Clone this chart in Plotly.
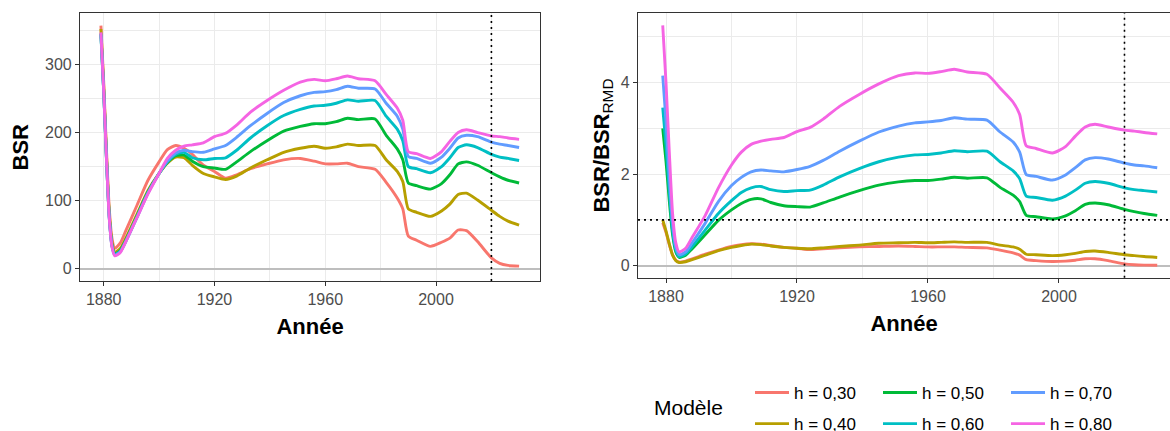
import plotly.graph_objects as go

# ---------------- data ----------------
YEARS = [1879, 1880, 1881, 1882, 1883, 1884, 1886, 1888, 1892, 1896, 1900, 1903, 1906, 1909,
         1912, 1916, 1920, 1924, 1928, 1933, 1939, 1945, 1951, 1956, 1960, 1964, 1968, 1972,
         1978, 1982, 1986, 1988, 1990, 1993, 1998, 2002, 2005, 2008, 2011, 2015, 2020, 2023,
         2026, 2030]

LABELS = ["h = 0,30", "h = 0,40", "h = 0,50", "h = 0,60", "h = 0,70", "h = 0,80"]
COLORS = ["#F8766D", "#B79F00", "#00BA38", "#00BFC4", "#619CFF", "#F564E3"]

# BSR (left panel)
BSR_030 = [357, 275, 175, 90, 45, 30, 38, 56, 93, 130, 157, 175, 181, 177, 168, 152, 143, 133, 138, 147,
           154, 160, 162, 158, 154, 154, 155, 150, 146, 127, 104, 88, 48, 42, 33, 39, 45, 57, 56, 40,
           16, 8, 5, 4]
BSR_040 = [352, 268, 168, 82, 38, 24, 30, 45, 80, 115, 140, 155, 164, 163, 152, 140, 135, 131, 136, 148,
           160, 171, 177, 180, 177, 179, 183, 181, 181, 160, 143, 128, 88, 83, 77, 85, 95, 109, 111, 101,
           86, 77, 70, 64]
BSR_050 = [345, 262, 163, 78, 35, 22, 27, 42, 77, 113, 140, 156, 166, 167, 158, 150, 148, 146, 157, 172,
           188, 202, 209, 213, 213, 216, 221, 219, 220, 196, 176, 160, 126, 122, 117, 125, 138, 154, 157, 152,
           141, 135, 130, 126]
BSR_060 = [343, 260, 161, 76, 34, 21, 26, 41, 76, 112, 140, 157, 168, 171, 163, 160, 162, 163, 174, 192,
           210, 225, 234, 239, 240, 243, 248, 246, 247, 224, 205, 188, 150, 147, 141, 150, 163, 178, 182, 178,
           168, 164, 162, 159]
BSR_070 = [345, 261, 162, 76, 33, 20, 25, 40, 75, 111, 140, 158, 170, 174, 172, 171, 176, 181, 193, 210,
           228, 244, 254, 259, 260, 263, 268, 265, 264, 243, 224, 205, 165, 162, 155, 164, 177, 192, 196, 194,
           186, 183, 181, 178]
BSR_080 = [347, 262, 162, 75, 32, 19, 24, 40, 75, 110, 140, 162, 174, 180, 182, 185, 194, 199, 211, 230,
           247, 262, 274, 278, 276, 279, 283, 279, 276, 256, 236, 218, 172, 169, 162, 172, 187, 200, 204, 200,
           195, 194, 192, 190]

# BSR / BSR_RMD (right panel)
REL_030 = [0.94, 0.73, 0.46, 0.24, 0.12, 0.08, 0.10, 0.15, 0.25, 0.34, 0.42, 0.46, 0.48, 0.47, 0.44, 0.40,
           0.38, 0.35, 0.37, 0.39, 0.41, 0.42, 0.43, 0.42, 0.41, 0.41, 0.41, 0.40, 0.39, 0.34, 0.28, 0.23,
           0.13, 0.11, 0.09, 0.10, 0.12, 0.15, 0.15, 0.11, 0.04, 0.02, 0.013, 0.01]
REL_040 = [1.00, 0.76, 0.48, 0.23, 0.11, 0.07, 0.085, 0.13, 0.23, 0.33, 0.40, 0.44, 0.47, 0.46, 0.43, 0.40,
           0.38, 0.37, 0.39, 0.42, 0.45, 0.49, 0.50, 0.51, 0.50, 0.51, 0.52, 0.51, 0.51, 0.45, 0.41, 0.36,
           0.25, 0.24, 0.22, 0.24, 0.27, 0.31, 0.32, 0.29, 0.24, 0.22, 0.20, 0.18]
REL_050 = [3.00, 2.28, 1.42, 0.68, 0.30, 0.18, 0.23, 0.37, 0.68, 0.99, 1.22, 1.36, 1.45, 1.46, 1.38, 1.31,
           1.29, 1.28, 1.37, 1.50, 1.64, 1.76, 1.83, 1.86, 1.86, 1.89, 1.93, 1.91, 1.92, 1.71, 1.54, 1.40,
           1.10, 1.07, 1.02, 1.09, 1.20, 1.34, 1.37, 1.33, 1.23, 1.18, 1.14, 1.10]
REL_060 = [3.45, 2.62, 1.63, 0.77, 0.34, 0.20, 0.26, 0.42, 0.78, 1.14, 1.42, 1.60, 1.70, 1.73, 1.66, 1.62,
           1.64, 1.65, 1.76, 1.94, 2.12, 2.27, 2.37, 2.42, 2.43, 2.46, 2.51, 2.49, 2.50, 2.27, 2.07, 1.90,
           1.52, 1.49, 1.43, 1.52, 1.65, 1.80, 1.84, 1.80, 1.70, 1.66, 1.64, 1.61]
REL_070 = [4.15, 3.15, 1.95, 0.92, 0.40, 0.24, 0.30, 0.50, 0.93, 1.40, 1.75, 1.93, 2.05, 2.09, 2.07, 2.05,
           2.10, 2.17, 2.30, 2.50, 2.72, 2.92, 3.05, 3.12, 3.14, 3.17, 3.23, 3.20, 3.18, 2.92, 2.70, 2.48,
           1.99, 1.95, 1.87, 1.98, 2.14, 2.31, 2.36, 2.33, 2.24, 2.20, 2.18, 2.14]
REL_080 = [5.25, 4.00, 2.50, 1.15, 0.50, 0.30, 0.38, 0.62, 1.10, 1.70, 2.20, 2.48, 2.65, 2.72, 2.76, 2.80,
           2.93, 3.02, 3.20, 3.48, 3.74, 3.97, 4.15, 4.21, 4.20, 4.24, 4.29, 4.23, 4.18, 3.88, 3.57, 3.30,
           2.62, 2.56, 2.46, 2.60, 2.83, 3.03, 3.09, 3.03, 2.96, 2.94, 2.91, 2.88]

BSR_SERIES = [BSR_030, BSR_040, BSR_050, BSR_060, BSR_070, BSR_080]
REL_SERIES = [REL_030, REL_040, REL_050, REL_060, REL_070, REL_080]

X_TICKS = [1880, 1920, 1960, 2000]
Y1_TICKS = [0, 100, 200, 300]
Y2_TICKS = [0, 2, 4]
REF_YEAR = 2020
REF_RATIO = 1

# ---------------- figure ----------------
W, H = 1170, 431
FONT = "Liberation Sans, Arial, sans-serif"
LEG_NAMES = ["legend", "legend", "legend2", "legend2", "legend3", "legend3"]

fig = go.Figure()
for i in range(6):
    fig.add_trace(go.Scatter(x=YEARS, y=BSR_SERIES[i], mode="lines", name=LABELS[i],
                             line=dict(color=COLORS[i], width=2.9, shape="spline", smoothing=0.6),
                             xaxis="x", yaxis="y", showlegend=False, hoverinfo="skip"))
for i in range(6):
    fig.add_trace(go.Scatter(x=YEARS, y=REL_SERIES[i], mode="lines", name=LABELS[i],
                             line=dict(color=COLORS[i], width=2.9, shape="spline", smoothing=0.6),
                             xaxis="x2", yaxis="y2",
                             showlegend=True, legend=LEG_NAMES[i], legendgroup=LABELS[i],
                             hoverinfo="skip"))

grid = "#EBEBEB"
axis_common = dict(showline=True, linecolor="#333333", linewidth=1.1,
                   ticks="outside", ticklen=4, tickwidth=1.1, tickcolor="#333333",
                   tickfont=dict(family=FONT, size=16, color="#4D4D4D"),
                   showgrid=True, gridcolor=grid, gridwidth=1.1,
                   automargin=False)
x_common = dict(zeroline=False, **axis_common)
y_common = dict(zeroline=True, zerolinecolor="#BEBEBE", zerolinewidth=1.6, **axis_common)

fig.update_layout(
    width=W, height=H,
    margin=dict(l=0, r=0, t=0, b=0, autoexpand=False),
    paper_bgcolor="white", plot_bgcolor="white",
    font=dict(family=FONT),
    xaxis=dict(domain=[80 / W, 540 / W], range=[1871.45, 2037.55], tickvals=X_TICKS,
               minor=dict(dtick=20, tick0=1880, showgrid=True, gridcolor=grid, gridwidth=0.6, ticks=""),
               mirror=True, anchor="y",
               title=dict(text="<b>Année</b>", font=dict(family=FONT, size=22, color="black"), standoff=11),
               **x_common),
    yaxis=dict(domain=[1 - 281 / H, 1 - 13.4 / H], range=[-17.85, 374.85], tickvals=Y1_TICKS,
               minor=dict(dtick=50, tick0=0, showgrid=True, gridcolor=grid, gridwidth=0.6, ticks=""),
               mirror=True, anchor="x",
               title=dict(text="<b>BSR</b>", font=dict(family=FONT, size=22, color="black"), standoff=10),
               **y_common),
    xaxis2=dict(domain=[638 / W, 1.0], range=[1871.45, 2033.9], tickvals=X_TICKS,
                minor=dict(dtick=20, tick0=1880, showgrid=True, gridcolor=grid, gridwidth=0.6, ticks=""),
                mirror=True, anchor="y2",
                title=dict(text="<b>Année</b>", font=dict(family=FONT, size=22, color="black"), standoff=11),
                **x_common),
    yaxis2=dict(domain=[1 - 277.7 / H, 1 - 13.3 / H], range=[-0.2625, 5.5125], tickvals=Y2_TICKS,
                minor=dict(dtick=1, tick0=0, showgrid=True, gridcolor=grid, gridwidth=0.6, ticks=""),
                mirror=False, anchor="x2",
                title=dict(text="<b>BSR/BSR</b><sub>RMD</sub>", font=dict(family=FONT, size=22, color="black"),
                           standoff=5),
                **y_common),
)

leg_common = dict(orientation="v", xanchor="left", yanchor="top", bgcolor="rgba(0,0,0,0)",
                  borderwidth=0, traceorder="grouped", tracegroupgap=6,
                  font=dict(family=FONT, size=17, color="black"), itemwidth=34)
fig.update_layout(
    legend=dict(x=750 / W, y=1 - 375 / H, **leg_common),
    legend2=dict(x=878 / W, y=1 - 375 / H, **leg_common),
    legend3=dict(x=1006 / W, y=1 - 375 / H, **leg_common),
)

fig.add_annotation(text="Modèle", x=652 / W, y=1 - 407 / H, xref="paper", yref="paper",
                   xanchor="left", yanchor="middle", showarrow=False,
                   font=dict(family=FONT, size=21, color="black"))

# dotted reference lines
for xa, ya in (("x", "y"), ("x2", "y2")):
    fig.add_shape(type="line", xref=xa, yref=f"{ya} domain", x0=REF_YEAR, x1=REF_YEAR, y0=0, y1=1,
                  line=dict(color="black", width=1.6, dash="2px,4px"), layer="above")
fig.add_shape(type="line", xref="x2 domain", yref="y2", x0=0, x1=1, y0=REF_RATIO, y1=REF_RATIO,
              line=dict(color="black", width=1.6, dash="2px,4px"), layer="above")

fig.write_html("out.html")
